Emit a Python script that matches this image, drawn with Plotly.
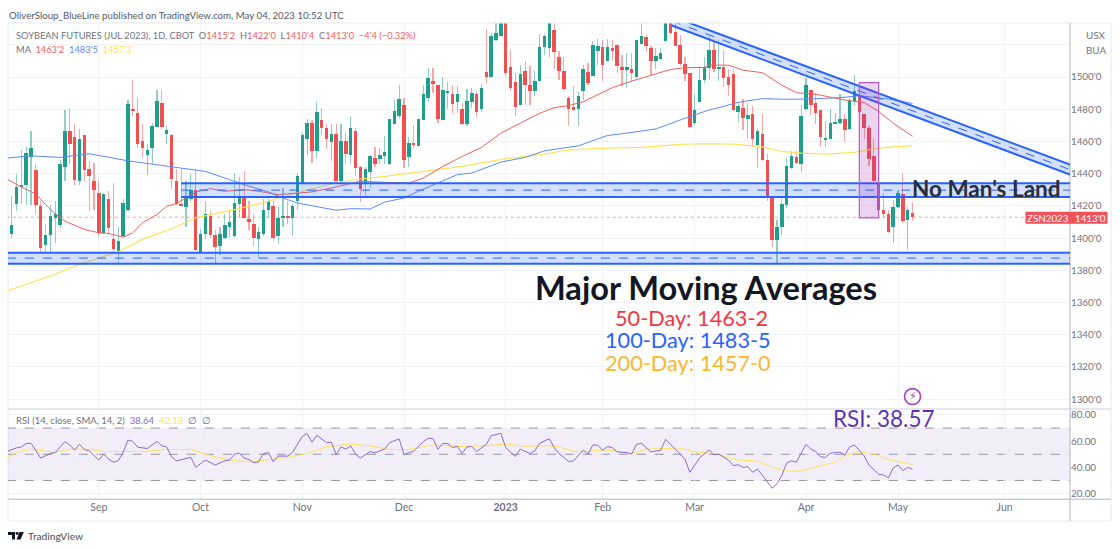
import plotly.graph_objects as go

# ---------- data (CBOT soybean futures, price in cents) ----------
bar_open = [1402,1421,1431.5,1433,1450,1442,1419.5,1395.5,1401.5,1412.5,1408,1444,1466,1462.5,1435,1464,1442.5,1435,1428,1403,1424,1399,1392,1401,1417,1479.5,1477.5,1460,1451.5,1455.5,1469,1483.5,1464.5,1463.5,1435,1421,1419,1424,1429.5,1391,1402,1413.5,1401.5,1395,1400,1406.5,1401,1421,1424.5,1411.5,1408.5,1399.5,1402.5,1417,1419.5,1401,1412.5,1413,1412.5,1423,1434,1461.5,1471.5,1454,1473,1468,1459.5,1464.5,1435.5,1460,1451.5,1466,
1444,1434,1440.5,1449.5,1449,1450.5,1445.5,1470.5,1475.5,1482.5,1450,1459,1457,1473,1487,1497,1495,1473,1490,1489,1484,1480,1470.5,1484,1489.5,1480,1503,1499.5,1523,1525.5,1537,1506,1496.5,1482.5,1503.5,1495,1491,1497.5,1518.5,1518,1529,1512.5,1503.5,1487,1481,1480,1491,1503,1500.5,1516,1518.5,1510,1517.5,1519.5,1506,1504,1504.5,1499.5,1520.5,1524.5,1517.5,1509.5,1511,1522,1534,1527.5,1519.5,1508,1502,1471.5,1484.5,1498,1505.5,1516.5,1504.5,1506,1499.5,1501.5,1478,1480.5,1474,1476.5,1457.5,1464.5,1448,1426,1398.5,1406.5,1420,1443,1450,1445.5,1480,1492,1483.5,1479,1461,1461.5,1471,1471.5,1474,1467.5,1485,1488.5,1476.5,1468,1450.5,1434,1417.5,1415,1406.5,1419,1427,1411,1415.5]
bar_high = [1426,1439.5,1454.5,1456.5,1466,1445.5,1423,1408.5,1420,1423,1448.5,1479,1480.5,1470.5,1467.5,1464,1447.5,1446.5,1435.5,1428,1429,1434,1406.5,1424,1485.5,1498,1487,1470.5,1458,1471.5,1491.5,1492,1469.5,1464.5,1442.5,1442.5,1435.5,1439.5,1442.5,1405.5,1423,1416.5,1404.5,1406.5,1414.5,1417.5,1440,1437.5,1441.5,1423,1414.5,1406.5,1424,1425,1423,1419,1431,1423,1421,1440,1465,1474,1473,1484.5,1480.5,1470.5,1470.5,1470.5,1470.5,1465,1475.5,1468,
1444.5,1444,1451.5,1456.5,1456,1463,1473.5,1485.5,1495,1487,1462.5,1470,1474,1494.5,1505.5,1505.5,1495,1499.5,1496.5,1495,1494,1483.5,1492.5,1493,1491,1495.5,1529.5,1527,1533,1537,1540,1516.5,1502.5,1507.5,1510,1506.5,1503.5,1526.5,1526.5,1535.5,1534,1516,1512,1488,1494,1490.5,1507.5,1508.5,1522,1523.5,1523,1523.5,1522.5,1519.5,1513.5,1514.5,1514.5,1523,1534,1526,1519,1517.5,1517.5,1535.5,1535.5,1534,1526,1512.5,1502.5,1489.5,1506.5,1512.5,1525.5,1522,1522.5,1516.5,1504.5,1504.5,1484.5,1486,1483.5,1481.5,1468,1476.5,1452,1426,1411,1426,1449.5,1454,1454,1482.5,1499,1492,1490,1479.5,1472.5,1480,1477.5,1489,1476.5,1487,1501,1491,1477,1469.5,1462,1439.5,1427.5,1417.5,1423.5,1429.5,1440,1419,1422]
bar_low = [1400,1416.5,1421,1420.5,1420.5,1414.5,1390.5,1391,1391,1397,1406,1435.5,1445.5,1433,1433,1435.5,1416.5,1417.5,1401,1402.5,1402.5,1391,1384,1400,1416.5,1475.5,1456,1449.5,1439,1446,1468.5,1467.5,1458,1430,1420.5,1419.5,1406.5,1423,1392,1390.5,1399,1400,1384.5,1389,1399,1400.5,1400.5,1412.5,1411.5,1404.5,1395,1387.5,1401,1412.5,1398,1396,1406.5,1408.5,1401,1417.5,1433.5,1451.5,1446.5,1449.5,1464,1455,1447.5,1434,1434,1445.5,1445.5,1438.5,
1422,1426,1431,1444,1446,1446,1445,1470.5,1474.5,1443.5,1444,1456,1457,1473,1485,1490,1471.5,1473,1480,1477.5,1477.5,1470,1469.5,1480.5,1475,1478,1496,1499.5,1522,1525,1500.5,1491,1475.5,1482.5,1482.5,1482.5,1488,1497,1513.5,1512,1504.5,1498,1491.5,1469.5,1478.5,1469.5,1485.5,1495,1500.5,1507.5,1497.5,1509.5,1509.5,1502.5,1494,1493,1497,1499,1520,1515.5,1501,1504.5,1510.5,1522,1526,1519,1506.5,1497,1468,1470,1484.5,1496,1498,1503,1497.5,1493.5,1488,1478.5,1472,1467,1462,1456.5,1443,1447.5,1423,1394,1384,1401.5,1418.5,1442.5,1445.5,1441,1479.5,1476,1470.5,1456.5,1456.5,1461,1470.5,1470.5,1460,1467,1481.5,1476.5,1461,1444.5,1435,1412,1412.5,1403,1397,1418.5,1409,1392.5,1410.5]
bar_close = [1408,1431.5,1432.5,1452.5,1455.5,1420.5,1393.5,1401.5,1413.5,1415,1446,1466.5,1458,1436,1461.5,1442,1438.5,1429.5,1403,1427,1406,1393,1398,1421.5,1483,1479,1458,1455.5,1454.5,1469.5,1485,1469,1467,1436.5,1421,1420,1425,1429.5,1392.5,1402,1415,1401.5,1394.5,1402,1408,1409.5,1421.5,1425.5,1412.5,1410,1400,1403.5,1417.5,1423,1400,1412.5,1413,1412.5,1419.5,1438.5,1463.5,1471.5,1454,1478,1468,1461.5,1464.5,1435.5,1460,1452,1468,1443,
1430.5,1442.5,1450.5,1445.5,1451.5,1453,1473.5,1478.5,1486,1448.5,1458.5,1457.5,1473.5,1489,1499,1495.5,1473.5,1492,1491,1483,1489.5,1470.5,1485,1490,1478,1493,1499.5,1525,1527,1533,1502.5,1493,1481,1501.5,1495,1491,1497.5,1518.5,1525,1534,1515.5,1503.5,1492.5,1480,1479.5,1488,1504.5,1496,1519.5,1519,1507.5,1518.5,1516,1506.5,1504,1506,1502.5,1522.5,1525.5,1519,1510,1513,1514.5,1534,1527,1519,1508,1501.5,1469,1479,1498,1506,1516.5,1504.5,1506,1499,1494.5,1479,1481.5,1474.5,1476,1461,1466.5,1448,1424.5,1398.5,1406.5,1421,1444.5,1450.5,1446.5,1475.5,1495,1482.5,1477.5,1462.5,1462,1471.5,1472,1474,1467,1485.5,1491,1478,1468,1449,1435.5,1417.5,1414.5,1403.5,1419,1428,1410.5,1417.5,1413]

ma50_bar = [-1,2,5,7,9,11,15,18,20,23,25,27,30,32,34,36,38,41,44,48,51,55,58,62,66,72,77,82,85,89,93,97,101,105,109,112,115,118,121,124,128,133,136,139,143,144,148,151,155,159,162,166,170,173,176,179,182,186]
ma50_val = [1436.7,1431.7,1427.4,1420.8,1415,1410.5,1405.4,1403.3,1402.9,1400.6,1403.3,1409.5,1414.6,1419.8,1421.4,1424.9,1428.7,1430.7,1429.1,1430.1,1429.1,1427,1427.6,1428.7,1431.1,1435.3,1434.6,1434.2,1437.3,1444.5,1450.7,1456.3,1465.2,1471.3,1477.5,1481,1482.3,1484.7,1488.9,1493.4,1497.5,1501.9,1504.7,1505.8,1506,1507.4,1507.4,1504.3,1502.7,1495,1490.3,1489.3,1486.8,1485.2,1484.3,1478.6,1471.3,1463.2]
ma100_bar = [-1,4,10,16,24,29,34,40,45,48,53,56,59,64,67,70,74,77,81,84,88,92,95,101,106,110,117,123,128,133,139,144,146,150,155,160,165,171,175,181,186]
ma100_val = [1449.7,1451.1,1450.1,1452.4,1448,1446,1444.1,1441.4,1436.3,1433.2,1428.7,1424.9,1421.8,1419.2,1417.3,1418.3,1418.1,1422.3,1424.9,1429.1,1434.2,1439.4,1440.4,1447.2,1450.1,1454.2,1457.3,1463.7,1465.6,1467.8,1474.4,1479.6,1481,1484.3,1486.6,1486.2,1486.4,1487.2,1488.4,1486.4,1483.6]
ma200_bar = [-1,8,14,22,27,33,38,46,53,60,66,72,77,84,88,93,102,110,114,121,130,139,144,149,155,159,163,168,174,178,182,186]
ma200_val = [1367.2,1376.5,1383.7,1391.5,1399.2,1405.8,1412.6,1417.7,1422.9,1429.1,1433.6,1436.7,1438.3,1441,1442.9,1444.5,1449.3,1452.2,1454.4,1455.7,1456.3,1458.3,1458.6,1458.3,1456.7,1453.8,1452.8,1452.2,1453.2,1455.4,1456.7,1457.4]

rsi_bar = [-1,1,2,3,4,6,7,8,9,11,12,13,14,15,16,17,18,19,20,21,22,23,24,25,26,28,30,31,32,33,34,37,38,40,42,44,45,46,47,48,49,50,51,52,53,54,55,57,58,60,61,62,63,65,66,67,68,69,70,71,72,74,75,77,78,80,81,83,85,86,87,88,89,90,91,92,93,94,95,96,98,99,101,102,104,105,107,108,109,111,112,113,115,116,118,119,120,121,122,123,124,125,127,128,129,130,132,134,135,137,139,140,142,144,145,146,148,149,150,151,152,153,154,157,158,159,160,161,162,164,165,166,167,168,169,171,172,173,174,176,177,179,180,181,182,183,184,185,186]
rsi_val = [52.1,54.9,55.6,58.2,58.4,47.1,48.8,50.6,51.4,59.7,57.1,53.1,57.7,53.6,52.6,48.8,45.6,50.1,46.3,44,45,51.4,60.7,59.9,55.4,54.4,59.9,56.4,55.6,48.1,45,47.6,40,45.6,41.8,45,45.6,50.1,50.9,47.1,46,43.5,44.3,50.6,51.4,44.3,48.6,48.6,51.4,63.7,65.7,59.2,64.5,58.9,59.2,49.8,55.6,53.9,56.4,50.1,47.1,52.1,51.1,53.9,58.9,61.7,49.8,52.4,59.7,62.2,61.9,53.9,58.2,58.2,55.1,56.1,50.6,55.6,55.9,52.1,57.7,64.2,66,55.1,48.3,53.9,50.6,52.6,58.4,61.9,55.1,50.6,44.5,45,53.1,50.1,57.1,56.9,53.1,55.9,55.1,51.8,51.3,50.1,57.6,58.4,51.8,53.1,61.4,53.9,46.3,36.2,47.1,53.4,49.6,50.1,45.5,41.3,42,40,40.5,36.2,38.7,24.1,27.4,33.7,43.3,45,44,57.6,53.9,52.1,48.1,47.6,50.8,51.6,49.3,55.6,57.1,48.8,41.8,34.7,34.2,31.9,39.5,41.8,37.5,40,38.64]
rsi_ma_bar = [-1,1,4,7,9,12,16,19,21,23,27,32,37,40,43,46,50,54,57,61,65,70,74,78,82,87,92,97,102,106,111,113,116,119,123,127,129,131,136,139,141,145,150,154,157,160,163,167,170,172,175,178,181,186]
rsi_ma_val = [47.6,51.4,53.9,52.1,51.4,53.9,53.9,52.1,52.1,51.9,52.1,53.6,53.6,50.1,47.1,45,44.6,46.3,47.6,50.6,55.6,57.9,56.4,53.6,53.6,57.1,55.9,56.4,57.7,56.1,56.6,55.6,52.3,52.3,53.4,50.8,51.3,53.9,54.4,53.9,51.8,50.6,45.5,44.8,40,37.2,37.2,41.3,43.8,48.8,52.1,50.1,45.8,42.13]

month_bars = [18,39,60,81,102,122,141,164,183,205]
month_labels = ['Sep','Oct','Nov','Dec','<b>2023</b>','Feb','Mar','Apr','May','Jun']
price_ticks = [1300,1320,1340,1360,1380,1400,1420,1440,1460,1480,1500,1520]
price_labels = ["1300'0","1320'0","1340'0","1360'0","1380'0","1400'0","1420'0","1440'0","1460'0","1480'0","1500'0",""]
rsi_ticks = [20,40,60,80]
rsi_labels = ['20.00','40.00','60.00','80.00']
last_close = 1413

# ---------- styling ----------
W, H = 1120, 550
GREEN, RED = '#1f9e8c', '#f0504f'
GREEN_W, RED_W = 'rgba(31,158,140,0.5)', 'rgba(240,80,79,0.5)'
BLUE = '#2962ff'
GRID = '#f1f3f9'
EDGE = '#e6e8ef'
AXIS = '#b2b5be'
TXT = '#6f7280'
UI = 'Lato'
BIG = 'Lato'
TICK = 9.8

def fx(p): return p / W
def fy(p): return 1 - p / H

bars = range(len(bar_open))
fig = go.Figure()
fig.add_trace(go.Bar(x=list(bars), base=bar_low, y=[h - l for h, l in zip(bar_high, bar_low)], width=0.24,
                     marker=dict(color=[GREEN_W if c >= o else RED_W for o, c in zip(bar_open, bar_close)], line_width=0),
                     name='wick', xaxis='x', yaxis='y'))
fig.add_trace(go.Bar(x=list(bars), base=[min(o, c) for o, c in zip(bar_open, bar_close)],
                     y=[max(abs(c - o), 0.6) for o, c in zip(bar_open, bar_close)], width=0.72,
                     marker=dict(color=[GREEN if c >= o else RED for o, c in zip(bar_open, bar_close)], line_width=0),
                     name='body', xaxis='x', yaxis='y'))
fig.add_trace(go.Scatter(x=ma200_bar, y=ma200_val, mode='lines', line=dict(color='#fde25a', width=1.2), name='MA 200'))
fig.add_trace(go.Scatter(x=ma100_bar, y=ma100_val, mode='lines', line=dict(color='#5f8af5', width=1), name='MA 100'))
fig.add_trace(go.Scatter(x=ma50_bar, y=ma50_val, mode='lines', line=dict(color='#f0605c', width=1), name='MA 50'))
fig.add_trace(go.Scatter(x=rsi_ma_bar, y=rsi_ma_val, mode='lines', line=dict(color='#fde25a', width=1), name='RSI MA', xaxis='x2', yaxis='y2'))
fig.add_trace(go.Scatter(x=rsi_bar, y=rsi_val, mode='lines', line=dict(color='#8a6bcb', width=1), name='RSI', xaxis='x2', yaxis='y2'))

shapes = []
# outer frame and separators (pixel placed chrome)
shapes.append(dict(type='rect', xref='paper', yref='paper', x0=fx(8), x1=fx(1111), y0=fy(521), y1=fy(21), line=dict(color=EDGE, width=1), layer='below'))
shapes.append(dict(type='line', xref='paper', yref='paper', x0=fx(8), x1=fx(1111), y0=fy(408.5), y1=fy(408.5), line=dict(color=EDGE, width=2), layer='below'))
shapes.append(dict(type='line', xref='paper', yref='paper', x0=fx(8), x1=fx(1111), y0=fy(499), y1=fy(499), line=dict(color=AXIS, width=1)))
shapes.append(dict(type='line', xref='paper', yref='paper', x0=fx(1070), x1=fx(1070), y0=fy(21), y1=fy(521), line=dict(color=AXIS, width=1)))
# last price
shapes.append(dict(type='line', xref='x', yref='y', x0=-1, x1=219, y0=last_close, y1=last_close, line=dict(color='rgba(240,80,79,0.55)', width=1, dash='dot'), layer='below'))
# horizontal zones
for x0, top, mid, bot in [(35, 1434, 1429.8, 1425.6), (-1, 1390.9, 1387.6, 1384.1)]:
    shapes.append(dict(type='rect', xref='x', yref='y', x0=x0, x1=219, y0=bot, y1=top, fillcolor='rgba(41,98,255,0.2)', line_width=0))
    for v, w, d in [(top, 2, 'solid'), (bot, 2, 'solid'), (mid, 1, 'dash')]:
        shapes.append(dict(type='line', xref='x', yref='y', x0=x0, x1=219, y0=v, y1=v, line=dict(color=BLUE, width=w, dash=d)))
# descending channel
cx0, cx1 = 136.3, 218.5
shapes.append(dict(type='path', xref='x', yref='y', path=f'M {cx0} 1537.7 L {cx1} 1445.6 L {cx1} 1439.4 L {cx0} 1532 Z', fillcolor='rgba(41,98,255,0.2)', line_width=0))
for a, b, w, d in [(1537.7, 1445.6, 2, 'solid'), (1532, 1439.4, 2, 'solid'), (1534.8, 1442.5, 1, 'dash')]:
    shapes.append(dict(type='line', xref='x', yref='y', x0=cx0, x1=cx1, y0=a, y1=b, line=dict(color=BLUE, width=w, dash=d)))
# breakdown highlight
shapes.append(dict(type='rect', xref='x', yref='y', x0=175, x1=179, y0=1412.6, y1=1496.5, fillcolor='rgba(156,39,176,0.2)', line=dict(color='#b45cc4', width=1.2)))
# RSI band and levels
shapes.append(dict(type='rect', xref='x2', yref='y2', x0=-1, x1=219, y0=30, y1=70, fillcolor='rgba(126,87,194,0.1)', line_width=0, layer='below'))
for lvl in [30, 50, 70]:
    shapes.append(dict(type='line', xref='x2', yref='y2', x0=-1, x1=219, y0=lvl, y1=lvl, line=dict(color='#9598a1', width=1, dash='dash'), layer='below'))
# price tag and alert icon
shapes.append(dict(type='rect', xref='paper', yref='paper', x0=fx(1025.5), x1=fx(1107.5), y0=fy(222.5), y1=fy(210.5), fillcolor='#f0525a', line_width=0))
shapes.append(dict(type='circle', xref='paper', yref='paper', x0=fx(904.5), x1=fx(920.5), y0=fy(404), y1=fy(388), fillcolor='white', line=dict(color='#a83fc0', width=1.6)))
# logo
def poly(pts):
    return 'M ' + ' L '.join(f'{fx(x)} {fy(y)}' for x, y in pts) + ' Z'
for pts in [[(8, 532), (15, 532), (15, 539.5), (12, 539.5), (12, 535), (8, 535)], [(19.5, 532), (23.8, 532), (20.5, 539.5), (16.5, 539.5)]]:
    shapes.append(dict(type='path', xref='paper', yref='paper', path=poly(pts), fillcolor='#131722', line_width=0))
shapes.append(dict(type='circle', xref='paper', yref='paper', x0=fx(15.6), x1=fx(18.6), y0=fy(535), y1=fy(532), fillcolor='#131722', line_width=0))

def note(x, y, text, size=11, color=TXT, anchor='left', family=UI):
    return dict(xref='paper', yref='paper', x=fx(x), y=fy(y), text=text, showarrow=False, xanchor=anchor, yanchor='middle',
                font=dict(size=size, color=color, family=family), align='left')

def c(txt, col):
    return f'<span style="color:{col}">{txt}</span>'

R = '#f0605c'
annotations = [
    note(7, 13, 'OliverSloup_BlueLine published on TradingView.com, May 04, 2023 10:52 UTC', 9.7, '#555862'),
    note(13.5, 34, "SOYBEAN FUTURES (JUL 2023), 1D, CBOT  O" + c("1415'2", R) + "  H" + c("1422'0", R) + "  L" + c("1410'4", R) + "  C" + c("1413'0", R) + c("  −4'4 (−0.32%)", R), 9.3),
    note(13.5, 48, "MA  " + c("1463'2", R) + "  " + c("1483'5", '#5f8af5') + "  " + c("1457'3", '#fde25a'), 9.3),
    note(13.5, 420.5, 'RSI (14, close, SMA, 14, 2)  ' + c('38.64', '#8a6bcb') + '  ' + c('42.13', '#fde25a') + '  ∅  ∅', 9.5),
    note(1084, 33, 'USX', TICK), note(1084, 48, 'BUA', TICK),
    note(1048, 216.5, 'ZSN2023', TICK, 'white', 'center'),
    note(1090, 216.5, "1413'0", TICK, 'white', 'center'),
    note(986, 187, "<b>No Man's Land</b>", 22.5, '#2a2e39', 'center', BIG),
    note(706, 287, '<b>Major Moving Averages</b>', 32.6, '#131722', 'center', BIG),
    note(691, 317, '50-Day: 1463-2', 21.7, '#f23645', 'center', BIG),
    note(688, 339, '100-Day: 1483-5', 21.7, '#2962ff', 'center', BIG),
    note(688, 362, '200-Day: 1457-0', 21.7, '#f9b82d', 'center', BIG),
    note(884, 418, 'RSI: 38.57', 22.5, '#5e35b1', 'center', BIG),
    note(912.5, 396, '⚡', 11, '#a83fc0', 'center', 'DejaVu Sans'),
    note(25.5, 536, 'TradingView', 10.2, '#4a4d57'),
]

fig.update_layout(
    width=W, height=H, margin=dict(l=0, r=0, t=0, b=0), paper_bgcolor='white', plot_bgcolor='white',
    showlegend=False, barmode='overlay', hovermode=False, bargap=0,
    shapes=shapes, annotations=annotations,
    font=dict(family=UI, size=11, color=TXT),
    xaxis=dict(domain=[fx(8), fx(1070)], range=[-0.76, 218.5], anchor='y', tickvals=month_bars, ticktext=[''] * len(month_bars),
               showgrid=True, gridcolor=GRID, gridwidth=1, zeroline=False, ticks=''),
    xaxis2=dict(domain=[fx(8), fx(1070)], range=[-0.76, 218.5], anchor='y2', tickvals=month_bars, ticktext=month_labels,
                showgrid=True, gridcolor=GRID, gridwidth=1, zeroline=False, ticks='',
                tickfont=dict(size=10.5, color=TXT, family=UI), tickangle=0),
    yaxis=dict(domain=[fy(408), fy(21.5)], range=[1294.2, 1533.3], anchor='x', side='right', tickvals=price_ticks, ticktext=price_labels,
               showgrid=True, gridcolor=GRID, zeroline=False, ticks='',
               tickfont=dict(size=TICK, color=TXT, family=UI)),
    yaxis2=dict(domain=[fy(499), fy(409.5)], range=[15.7, 83.8], anchor='x2', side='right', tickvals=rsi_ticks, ticktext=rsi_labels,
                showgrid=True, gridcolor=GRID, zeroline=False, ticks='',
                tickfont=dict(size=TICK, color=TXT, family=UI)),
)

fig.write_html('out.html', config=dict(displayModeBar=False), post_script="document.body.style.margin='0';document.body.style.overflow='hidden';")
